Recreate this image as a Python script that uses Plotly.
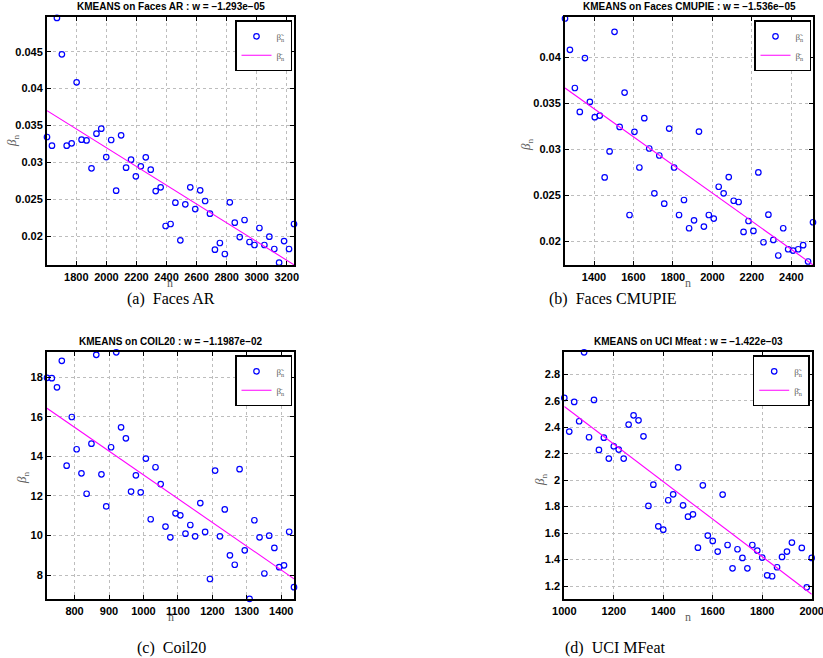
import plotly.graph_objects as go

# ---------------- data ----------------
ar_n = [1605, 1638, 1671, 1704, 1736, 1769, 1802, 1835, 1868, 1901, 1934, 1966, 1999, 2032, 2065, 2098, 2131,
        2164, 2196, 2229, 2262, 2295, 2328, 2361, 2394, 2427, 2459, 2492, 2525, 2558, 2591, 2624, 2657, 2689,
        2722, 2755, 2788, 2821, 2854, 2887, 2919, 2952, 2985, 3018, 3051, 3084, 3117, 3149, 3182, 3215, 3248]
ar_beta = [0.03343, 0.03225, 0.04957, 0.04464, 0.03225, 0.03257, 0.04084, 0.03307, 0.03297, 0.02918, 0.03388,
           0.03456, 0.03071, 0.03302, 0.02615, 0.03365, 0.02927, 0.03035, 0.02809, 0.02945, 0.03067, 0.02900,
           0.02610, 0.02660, 0.02136, 0.02163, 0.02452, 0.01941, 0.02430, 0.02660, 0.02366, 0.02619, 0.02475,
           0.02303, 0.01815, 0.01905, 0.01756, 0.02457, 0.02181, 0.01986, 0.02217, 0.01919, 0.01878, 0.02109,
           0.01878, 0.01991, 0.01824, 0.01638, 0.01932, 0.01824, 0.02163]
ar_fit_n = [1605, 3248]
ar_fit_beta = [0.0370, 0.0161]

cmu_n = [1253, 1278, 1303, 1328, 1354, 1379, 1404, 1429, 1454, 1479, 1504, 1530, 1555, 1580, 1605, 1630, 1655,
         1680, 1706, 1731, 1756, 1781, 1806, 1831, 1856, 1882, 1907, 1932, 1957, 1982, 2007, 2032, 2057, 2083,
         2108, 2133, 2158, 2183, 2208, 2233, 2259, 2284, 2309, 2334, 2359, 2384, 2409, 2435, 2460, 2485, 2510]
cmu_beta = [0.04419, 0.04079, 0.03664, 0.03404, 0.03989, 0.03513, 0.03347, 0.03365, 0.02693, 0.02975, 0.04274,
            0.03242, 0.03614, 0.02285, 0.03188, 0.02801, 0.03336, 0.03007, 0.02520, 0.02931, 0.02408, 0.03224,
            0.02801, 0.02285, 0.02448, 0.02141, 0.02227, 0.03191, 0.02159, 0.02285, 0.02246, 0.02592, 0.02520,
            0.02697, 0.02440, 0.02426, 0.02101, 0.02220, 0.02112, 0.02747, 0.01989, 0.02289, 0.02014, 0.01845,
            0.02141, 0.01913, 0.01899, 0.01913, 0.01957, 0.01780, 0.02206]
cmu_fit_n = [1253, 2510]
cmu_fit_beta = [0.03664, 0.01744]

coil_n = [720, 734, 749, 763, 777, 792, 806, 820, 835, 849, 863, 878, 892, 906, 921, 935, 949, 964, 978, 992,
          1007, 1021, 1035, 1050, 1064, 1078, 1093, 1107, 1122, 1136, 1150, 1165, 1179, 1193, 1208, 1222, 1236,
          1251, 1265, 1279, 1294, 1308, 1322, 1337, 1351, 1365, 1380, 1394, 1408, 1423, 1437]
coil_beta = [17.97, 17.95, 17.49, 18.83, 13.53, 15.99, 14.36, 13.14, 12.11, 14.64, 19.13, 13.09, 11.47, 14.46,
             19.26, 15.47, 14.91, 12.22, 13.04, 12.18, 13.89, 10.82, 13.45, 12.60, 10.45, 9.91, 11.12, 11.02,
             10.09, 10.53, 9.96, 11.64, 10.18, 7.80, 13.28, 9.96, 11.32, 9.00, 8.52, 13.35, 9.25, 6.80, 10.77,
             9.91, 8.08, 9.99, 9.37, 8.40, 8.49, 10.19, 7.39]
coil_fit_n = [720, 1437]
coil_fit_beta = [16.43, 7.81]

mfeat_n = [1000, 1020, 1040, 1060, 1080, 1100, 1120, 1140, 1160, 1180, 1200, 1220, 1240, 1260, 1280, 1300, 1320,
           1340, 1360, 1380, 1400, 1420, 1440, 1460, 1480, 1500, 1520, 1540, 1560, 1580, 1600, 1620, 1640, 1660,
           1680, 1700, 1720, 1740, 1760, 1780, 1800, 1820, 1840, 1860, 1880, 1900, 1920, 1940, 1960, 1980, 2000]
mfeat_beta = [2.621, 2.367, 2.591, 2.445, 2.966, 2.324, 2.606, 2.228, 2.321, 2.163, 2.256, 2.231, 2.163, 2.420,
              2.490, 2.452, 2.331, 1.805, 1.966, 1.651, 1.626, 1.848, 1.893, 2.097, 1.810, 1.724, 1.742, 1.490,
              1.961, 1.581, 1.541, 1.460, 1.891, 1.510, 1.334, 1.478, 1.412, 1.334, 1.510, 1.468, 1.415, 1.281,
              1.274, 1.342, 1.420, 1.460, 1.528, 1.100, 1.488, 1.190, 1.412]
mfeat_fit_n = [1000, 2000]
mfeat_fit_beta = [2.556, 1.138]

titles = ["KMEANS on Faces AR : w = \u22121.293e\u221205",
          "KMEANS on Faces CMUPIE : w = \u22121.536e\u221205",
          "KMEANS on COIL20 : w = \u22121.1987e\u221202",
          "KMEANS on UCI Mfeat : w = \u22121.422e\u221203"]
captions = ["(a)  Faces AR", "(b)  Faces CMUPIE", "(c)  Coil20", "(d)  UCI MFeat"]
x_label = "n"
y_label = "<i>\u03b2</i><sub>n</sub>"

# ---------------- layout geometry (pixels) ----------------
W, H = 823, 658
panels = [
    dict(n=ar_n, b=ar_beta, fn=ar_fit_n, fb=ar_fit_beta, box=(47, 294, 17.3, 265),
         xr=[1605, 3248], yr=[0.01607, 0.04966], xd=200, yd=0.005, cap=(171, 296),
         xt=(170, 283), yt=(12, 141)),
    dict(n=cmu_n, b=cmu_beta, fn=cmu_fit_n, fb=cmu_fit_beta, box=(565, 813, 17.3, 265),
         xr=[1253, 2510], yr=[0.01742, 0.04432], xd=200, yd=0.005, cap=(613, 296),
         xt=(688, 283), yt=(527, 145)),
    dict(n=coil_n, b=coil_beta, fn=coil_fit_n, fb=coil_fit_beta, box=(47, 294, 352.3, 599),
         xr=[720, 1437], yr=[6.79, 19.26], xd=100, yd=2, cap=(171, 645),
         xt=(171, 617), yt=(22, 478)),
    dict(n=mfeat_n, b=mfeat_beta, fn=mfeat_fit_n, fb=mfeat_fit_beta, box=(564.3, 811.7, 352.3, 599),
         xr=[1000, 2000], yr=[1.102, 2.966], xd=200, yd=0.2, cap=(615, 645),
         xt=(688, 617), yt=(540, 480)),
]

fig = go.Figure()
layout = dict(width=W, height=H, margin=dict(l=0, r=0, t=0, b=0),
              paper_bgcolor="white", plot_bgcolor="white", showlegend=True)
annotations = []

tick_font = dict(family="Liberation Sans", size=11, color="black", weight="bold")
label_font = dict(family="Liberation Serif", size=13, color="#606060")
for i, p in enumerate(panels, start=1):
    sfx = "" if i == 1 else str(i)
    lg = "legend" if i == 1 else "legend%d" % i
    x0, x1, y0, y1 = p["box"]
    fig.add_trace(go.Scatter(x=p["n"], y=p["b"], mode="markers", xaxis="x" + sfx, yaxis="y" + sfx,
                             name="\u03b2\u0303<sub>n</sub>", legend=lg, cliponaxis=False,
                             marker=dict(symbol="circle-open", size=5.5, color="#0000ff",
                                         line=dict(width=1.2, color="#0000ff"))))
    fig.add_trace(go.Scatter(x=p["fn"], y=p["fb"], mode="lines", xaxis="x" + sfx, yaxis="y" + sfx,
                             name="\u03b2\u0304<sub>n</sub>", legend=lg,
                             line=dict(color="#ff00ff", width=1.1)))
    axcommon = dict(showline=True, linecolor="black", linewidth=2, mirror="ticks",
                    ticks="inside", ticklen=4, tickcolor="black", tickwidth=1,
                    showgrid=True, gridcolor="#bdbdbd", griddash="dot", gridwidth=1,
                    zeroline=False, tickfont=tick_font, automargin=False,
                    ticklabeloverflow="allow")
    layout["xaxis" + sfx] = dict(axcommon, domain=[x0 / W, x1 / W], range=p["xr"], dtick=p["xd"],
                                 anchor="y" + sfx, ticklabelstandoff=1)
    layout["yaxis" + sfx] = dict(axcommon, domain=[1 - y1 / H, 1 - y0 / H], range=p["yr"], dtick=p["yd"],
                                 anchor="x" + sfx)
    layout[lg] = dict(x=(x1 - 2) / W, y=1 - (y0 + 3) / H, xanchor="right", yanchor="top",
                      bgcolor="white", bordercolor="black", borderwidth=1.5,
                      font=dict(family="Liberation Serif", size=9, color="#606060"),
                      tracegroupgap=0, itemwidth=30)
    annotations.append(dict(text="<b>%s</b>" % titles[i - 1], x=(x0 + x1) / 2 / W, y=1 - (y0 - 10.5) / H,
                            xref="paper", yref="paper", showarrow=False, xanchor="center", yanchor="middle",
                            font=dict(family="Liberation Sans", size=10, color="black")))
    xtx, xty = p["xt"]
    annotations.append(dict(text=x_label, x=xtx / W, y=1 - xty / H, xref="paper", yref="paper",
                            showarrow=False, xanchor="center", yanchor="middle", borderpad=0,
                            font=dict(label_font, size=12)))
    ytx, yty = p["yt"]
    annotations.append(dict(text=y_label, x=ytx / W, y=1 - yty / H, xref="paper", yref="paper",
                            showarrow=False, xanchor="center", yanchor="middle", textangle=-90,
                            font=label_font))
    cx, cy = p["cap"]
    annotations.append(dict(text=captions[i - 1], x=cx / W, y=1 - (cy + 3) / H, xref="paper", yref="paper",
                            showarrow=False, xanchor="center", yanchor="middle", borderpad=0,
                            font=dict(family="Liberation Serif", size=16, color="black")))

layout["annotations"] = annotations
fig.update_layout(**layout)
fig.write_html("out.html", config={"displayModeBar": False},
               post_script="document.body.style.margin='0';document.body.style.padding='0';")
